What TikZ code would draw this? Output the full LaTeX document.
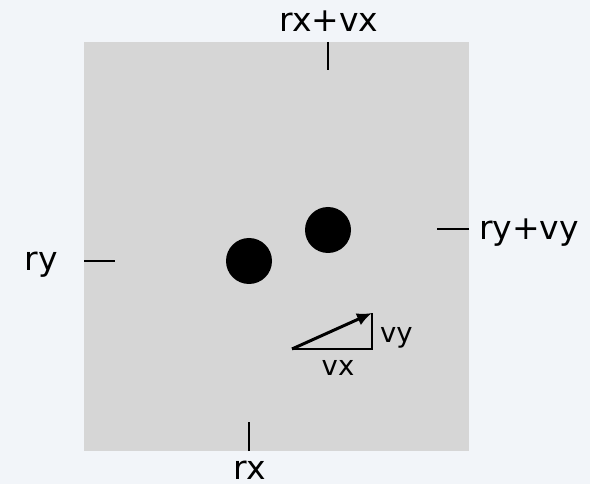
\documentclass[tikz,border=0pt]{standalone}
\usepackage{fontspec}
\setmainfont{DejaVu Sans}
\usepackage{xcolor}
\usetikzlibrary{arrows.meta,positioning}
\definecolor{pagebg}{HTML}{F2F5F9}
\definecolor{boxgray}{HTML}{D6D6D6}

\begin{document}
\begin{tikzpicture}[x=1pt,y=-1pt,
    lab/.style={font=\fontsize{33}{33}\selectfont,inner sep=0pt},
    sublab/.style={font=\fontsize{27.5}{27.5}\selectfont,inner sep=0pt},
    tick/.style={line width=2pt},
    vec/.style={-{Latex[length=15pt,width=13pt]},line width=3pt},
    ball/.style={circle,fill=black,minimum size=46pt,inner sep=0pt}]
  \useasboundingbox[fill=pagebg] (0,0) rectangle (590,484);
  \fill[boxgray] (84,42) rectangle (469,451);
  % ticks on the box sides
  \coordinate (topA) at (328,42);   \coordinate (topB) at (328,70);
  \coordinate (botA) at (249,451);  \coordinate (botB) at (249,422);
  \coordinate (lefA) at (84,261);   \coordinate (lefB) at (115,261);
  \coordinate (rigA) at (469,229);  \coordinate (rigB) at (437,229);
  \draw[tick] (topA) -- (topB);
  \draw[tick] (botA) -- (botB);
  \draw[tick] (lefA) -- (lefB);
  \draw[tick] (rigA) -- (rigB);
  \node[lab,anchor=base] (rxvx) at (329,32) {rx+vx};
  \node[lab,anchor=base] (rx) at (250,479) {rx};
  \node[lab,anchor=base] (ry) at (41,271) {ry};
  \node[lab,anchor=base west] (ryvy) at (479,240) {ry+vy};
  % the two balls
  \node[ball] (b1) at (249,261) {};
  \node[ball] (b2) at (328,230) {};
  % velocity vector
  \coordinate (vs) at (292,349);
  \coordinate (vc) at (372,349);
  \coordinate (ve) at (372,313);
  \draw[line width=1.3pt] (vs) -- (vc) -- (ve);
  \draw[vec] (vs) -- (ve);
  \node[sublab,anchor=base] (vx) at (338,375) {vx};
  \node[sublab,anchor=base west] (vy) at (380,343) {vy};
\end{tikzpicture}
\end{document}
